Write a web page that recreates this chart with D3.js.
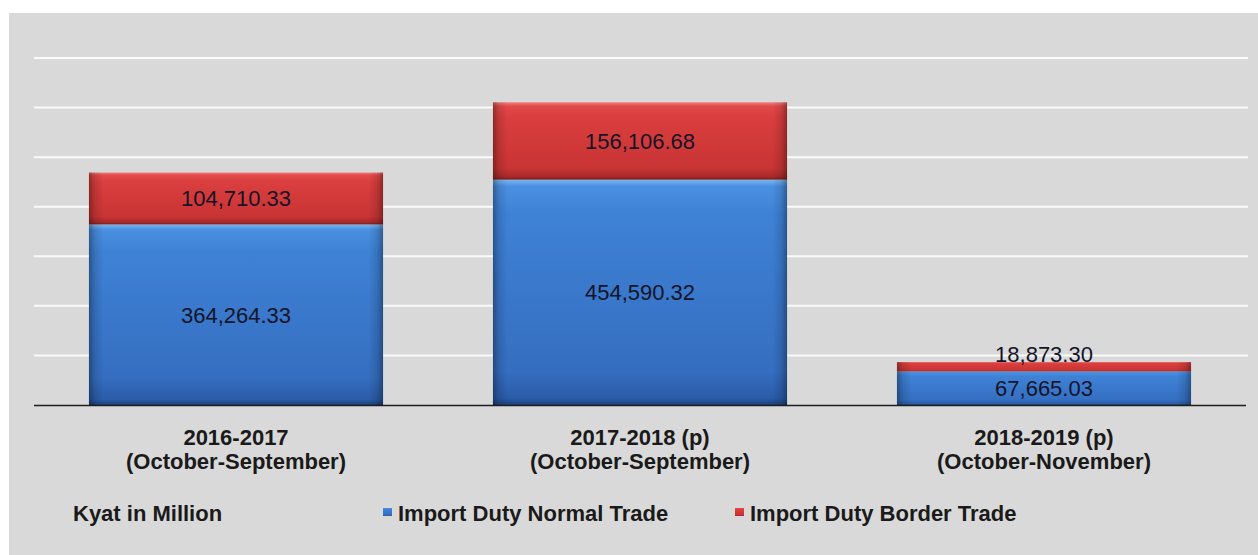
<!DOCTYPE html>
<html><head><meta charset="utf-8">
<script src="https://cdn.jsdelivr.net/npm/d3@7"></script>
<style>body{margin:0;background:#fff}svg{display:block}text{font-family:"Liberation Sans",Arial,sans-serif}</style>
</head><body>
<svg id="c" width="1258" height="555"></svg>
<script>
const categories = [["2016-2017","(October-September)"],["2017-2018 (p)","(October-September)"],["2018-2019 (p)","(October-November)"]];
const normalTrade = [364264.33, 454590.32, 67665.03];
const borderTrade = [104710.33, 156106.68, 18873.30];
const seriesNames = ["Import Duty Normal Trade","Import Duty Border Trade"];
const yTicks = [100000,200000,300000,400000,500000,600000,700000];
const unitLabel = "Kyat in Million";

const svg = d3.select("#c");
const W = 1258, H = 555;
const plot = {l:34, r:1246, t:58, b:405};

svg.append("rect").attr("x",9).attr("y",13).attr("width",W-9).attr("height",H-13).attr("fill","#d9d9d9");

const defs = svg.append("defs");
function vgrad(id, stops){
  const g = defs.append("linearGradient").attr("id",id).attr("x1",0).attr("y1",0).attr("x2",0).attr("y2",1);
  stops.forEach(s=>g.append("stop").attr("offset",s[0]).attr("stop-color",s[1]));
}
vgrad("gBlue",[["0%","#7ab6f4"],["3%","#4a8fe0"],["15%","#3e82d6"],["85%","#356ec0"],["97%","#2a5ca8"],["100%","#1c3f78"]]);
vgrad("gRed",[["0%","#f48080"],["5%","#e24a4a"],["20%","#da3e3e"],["85%","#c93434"],["96%","#a82a2a"],["100%","#7a1c1c"]]);
const hg = defs.append("linearGradient").attr("id","gEdge").attr("x1",0).attr("y1",0).attr("x2",1).attr("y2",0);
[["0%","rgba(0,0,0,0.35)"],["2%","rgba(0,0,0,0.12)"],["5%","rgba(0,0,0,0)"],["95%","rgba(0,0,0,0)"],["98%","rgba(0,0,0,0.12)"],["100%","rgba(0,0,0,0.35)"]]
  .forEach(s=>hg.append("stop").attr("offset",s[0]).attr("stop-color",s[1]));

const x = d3.scaleBand().domain(d3.range(categories.length)).range([plot.l, plot.r]).paddingInner(0.272).paddingOuter(0.136);
const y = d3.scaleLinear().domain([0,700000]).range([plot.b, plot.t]);

svg.append("g").selectAll("line").data(yTicks).join("line")
  .attr("x1",plot.l).attr("x2",1248).attr("y1",d=>y(d)).attr("y2",d=>y(d))
  .attr("stroke","#fafafa").attr("stroke-width",2);

const stacked = categories.map((c,i)=>({i, n:normalTrade[i], b:borderTrade[i]}));
const gb = svg.append("g");
stacked.forEach(d=>{
  const x0 = x(d.i), bw = x.bandwidth();
  const segs = [
    {y0:0, y1:d.n, fill:"url(#gBlue)"},
    {y0:d.n, y1:d.n+d.b, fill:"url(#gRed)"}
  ];
  segs.forEach(s=>{
    gb.append("rect").attr("x",x0).attr("y",y(s.y1)).attr("width",bw).attr("height",y(s.y0)-y(s.y1)).attr("fill",s.fill);
    gb.append("rect").attr("x",x0).attr("y",y(s.y1)).attr("width",bw).attr("height",y(s.y0)-y(s.y1)).attr("fill","url(#gEdge)");
  });
});

svg.append("line").attr("x1",plot.l).attr("x2",plot.r).attr("y1",plot.b+0.5).attr("y2",plot.b+0.5).attr("stroke","#1e1e1e").attr("stroke-width",1.6);

const fmt = d3.format(",.2f");
const gl = svg.append("g").attr("font-size",22).attr("fill","#141428").attr("text-anchor","middle");
stacked.forEach(d=>{
  const cx = x(d.i)+x.bandwidth()/2;
  gl.append("text").attr("x",cx).attr("y",(y(0)+y(d.n))/2).attr("dy","0.36em").text(fmt(d.n));
  const redH = y(d.n)-y(d.n+d.b);
  const ry = redH > 30 ? (y(d.n)+y(d.n+d.b))/2 : y(d.n+d.b)-8;
  gl.append("text").attr("x",cx).attr("y",ry).attr("dy","0.36em").text(fmt(d.b));
});

const gc = svg.append("g").attr("font-size",22).attr("font-weight","bold").attr("fill","#1a1a1a").attr("text-anchor","middle");
categories.forEach((c,i)=>{
  const cx = x(i)+x.bandwidth()/2;
  gc.append("text").attr("x",cx).attr("y",445).text(c[0]);
  gc.append("text").attr("x",cx).attr("y",469).text(c[1]);
});

const lg = svg.append("g").attr("font-size",22).attr("font-weight","bold").attr("fill","#1a1a1a");
lg.append("text").attr("x",73).attr("y",521).text(unitLabel);
const legendItems = [{x:383, name:seriesNames[0], fill:"url(#gBlue)"},{x:735, name:seriesNames[1], fill:"url(#gRed)"}];
legendItems.forEach(it=>{
  lg.append("rect").attr("x",it.x).attr("y",508).attr("width",9).attr("height",8).attr("fill",it.fill);
  lg.append("text").attr("x",it.x+15).attr("y",521).text(it.name);
});
</script>
</body></html>
